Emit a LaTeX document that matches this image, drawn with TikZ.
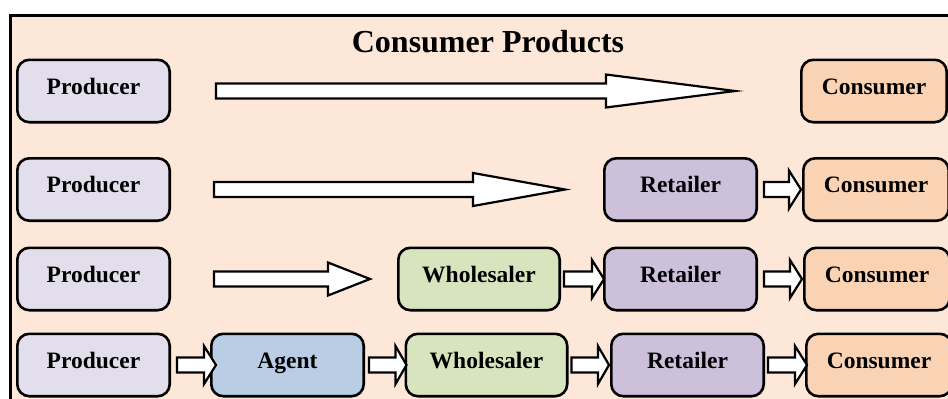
\documentclass[tikz,border=0pt]{standalone}
\usepackage{fontspec}
\setmainfont{Liberation Serif}
\usetikzlibrary{calc}

\definecolor{bgpeach}{HTML}{FCE7D8}
\definecolor{prodfill}{HTML}{E2DEEB}
\definecolor{consfill}{HTML}{F9D3B4}
\definecolor{retfill}{HTML}{CCC0DA}
\definecolor{whofill}{HTML}{D7E4BD}
\definecolor{agentfill}{HTML}{B9CDE5}

\tikzset{
  box/.style={draw=black, line width=2.6pt, rounded corners=12pt,
    minimum width=152.4pt, minimum height=62.4pt, inner sep=0pt,
    font=\bfseries\fontsize{23.5}{26}\selectfont,
    text height=18pt, text depth=12pt},
  producer/.style={box, fill=prodfill},
  consumer/.style={box, fill=consfill, minimum width=145.4pt},
  retailer/.style={box, fill=retfill},
  wholesaler/.style={box, fill=whofill, minimum width=161.4pt},
  agent/.style={box, fill=agentfill},
  barrow/.style={draw=black, fill=white, line width=2.2pt, line join=miter},
  frame/.style={draw=black, fill=bgpeach, line width=3pt},
  heading/.style={font=\bfseries\fontsize{32}{36}\selectfont},
}

% block arrow: #1 start of shaft, #2 tip, #3 head length, #4 head half-height
\newcommand\blockarrow[4]{%
  \draw[barrow] let \p1=#1, \p2=#2 in
    (\x1,{\y1+7.5pt}) -- ({\x2-#3},{\y1+7.5pt}) -- ({\x2-#3},{\y1+#4})
    -- (\x2,\y1) -- ({\x2-#3},{\y1-#4}) -- ({\x2-#3},{\y1-7.5pt})
    -- (\x1,{\y1-7.5pt}) -- cycle;}

\begin{document}
\begin{tikzpicture}[x=1pt, y=-1pt]
\useasboundingbox (0,0) rectangle (948,399);

% outer panel
\draw[frame] (10,15) rectangle (990,440);
\node[heading, anchor=base] (title) at (488,52) {Consumer Products};

% row 1: producer direct to consumer
\node[producer] (p1) at (93.5,91) {Producer};
\node[consumer] (c1) at (874,91) {Consumer};

% row 2: through a retailer
\node[producer] (p2) at (93.5,189.5) {Producer};
\node[retailer] (r2) at (680.5,189.5) {Retailer};
\node[consumer] (c2) at (876,189.5) {Consumer};

% row 3: through wholesaler and retailer
\node[producer] (p3) at (93.5,279) {Producer};
\node[wholesaler] (w3) at (479,279) {Wholesaler};
\node[retailer] (r3) at (680.5,279) {Retailer};
\node[consumer] (c3) at (877,279) {Consumer};

% row 4: through agent, wholesaler and retailer
\node[producer] (p4) at (93.5,365) {Producer};
\node[agent] (a4) at (287.5,365) {Agent};
\node[wholesaler] (w4) at (486.5,365) {Wholesaler};
\node[retailer] (r4) at (687.5,365) {Retailer};
\node[consumer] (c4) at (879,365) {Consumer};

% free tips of the long arrows
\coordinate (t1) at (735,91);
\coordinate (t2) at (565,189.5);
\coordinate (t3) at (370,279);

% long arrows
\blockarrow{([xshift=45pt]p1.east)}{(t1)}{129pt}{16.5pt}
\blockarrow{([xshift=43pt]p2.east)}{(t2)}{92pt}{16.5pt}
\blockarrow{([xshift=43pt]p3.east)}{(t3)}{42pt}{16.5pt}

% short arrows between neighbouring boxes
\blockarrow{([xshift=6pt]r2.east)}{([xshift=-1pt]c2.west)}{12pt}{19pt}
\blockarrow{([xshift=3pt]w3.east)}{([xshift=1pt]r3.west)}{12pt}{19pt}
\blockarrow{([xshift=6pt]r3.east)}{([xshift=-1pt]c3.west)}{12pt}{19pt}
\blockarrow{([xshift=6pt]p4.east)}{([xshift=6pt]a4.west)}{12pt}{19pt}
\blockarrow{([xshift=4pt]a4.east)}{([xshift=2pt]w4.west)}{11pt}{19pt}
\blockarrow{([xshift=3pt]w4.east)}{([xshift=-1pt]r4.west)}{11pt}{19pt}
\blockarrow{([xshift=3pt]r4.east)}{([xshift=2pt]c4.west)}{12pt}{19pt}
\end{tikzpicture}
\end{document}
